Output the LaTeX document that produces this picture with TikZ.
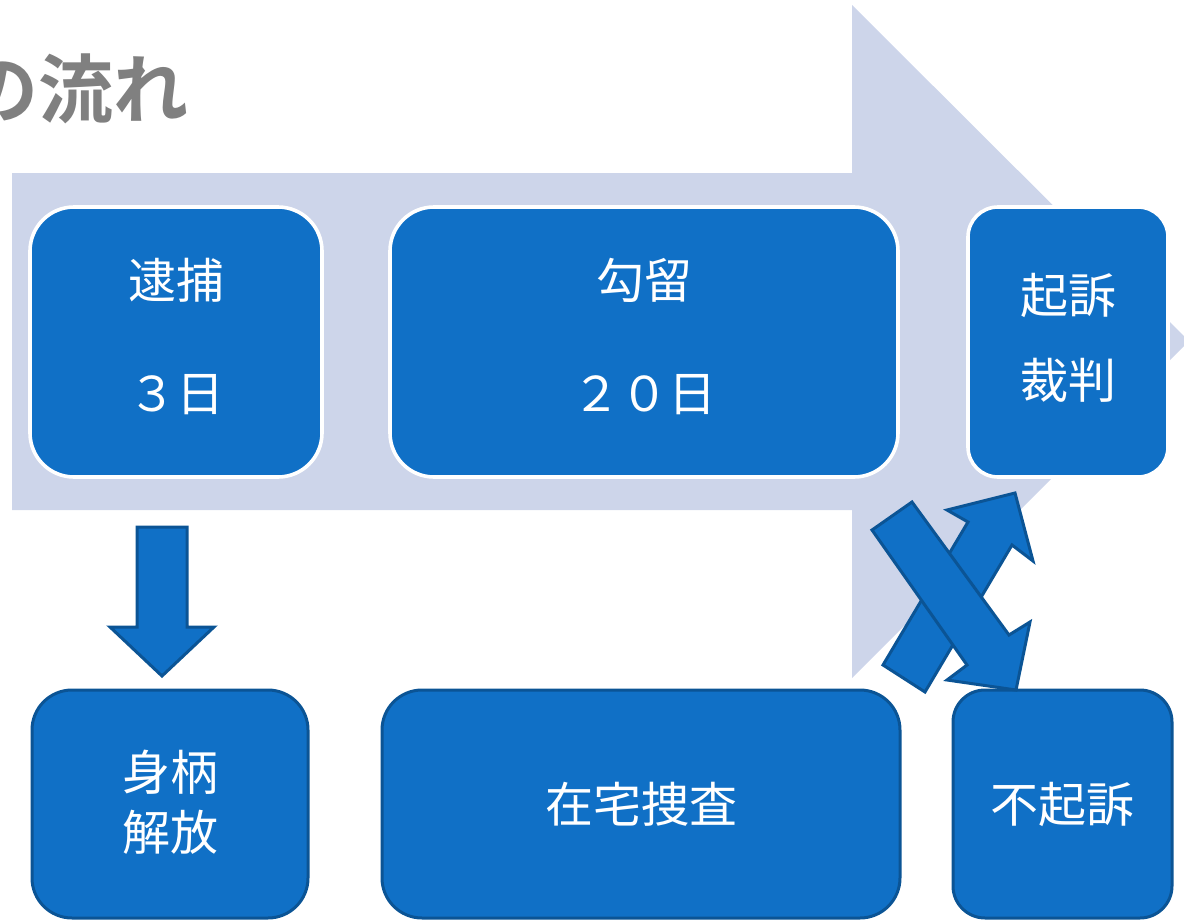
\documentclass[tikz,border=0pt]{standalone}
\usepackage{fontspec}
\newfontfamily\jp{Noto Sans CJK JP}
\newfontfamily\jpbold{Noto Sans CJK JP Bold}
\usetikzlibrary{calc}
\definecolor{bgarrow}{HTML}{CDD5EA}
\definecolor{boxblue}{HTML}{1070C6}
\definecolor{boxedge}{HTML}{0B5495}
\definecolor{titlegray}{HTML}{808080}
\begin{document}
\begin{tikzpicture}[x=0.5pt,y=-0.5pt,
  topbox/.style={draw=white, line width=1.8pt, fill=boxblue, rounded corners=22pt, inner sep=0pt},
  botbox/.style={draw=boxedge, line width=1.5pt, fill=boxblue, rounded corners=20pt, inner sep=0pt},
  blockarrow/.style={draw=boxedge, line width=1.5pt, fill=boxblue, line join=miter},
  lbl/.style={text=white, font=\jp\fontsize{24pt}{28pt}\selectfont, inner sep=0pt}]
\useasboundingbox (0,0) rectangle (1184,921);
\clip (0,0) rectangle (1184,921);
% background arrow
\fill[bgarrow] (12,173) -- (852,173) -- (852,5) -- (1189,341) -- (852,678) -- (852,510) -- (12,510) -- cycle;
% title (partly outside the picture, as in the reference)
\node[anchor=east, inner sep=0pt, text=titlegray, font=\jpbold\fontsize{37.5pt}{40pt}\selectfont] (title) at (189,89) {の流れ};
% top boxes
\node[topbox, minimum width=146pt, minimum height=135pt] (arrest) at (176,342) {};
\node[topbox, minimum width=254pt, minimum height=135pt] (detain) at (644,342) {};
\node[topbox, rounded corners=15pt, minimum width=100pt, minimum height=135pt] (indict) at (1068,342) {};
\node[lbl] (arrestA) at ($(arrest)+(0,-62)$) {逮捕};
\node[lbl] (arrestB) at ($(arrest)+(0,53)$) {３日};
\node[lbl] (detainA) at ($(detain)+(0,-62)$) {勾留};
\node[lbl] (detainB) at ($(detain)+(0,53)$) {２０日};
\node[lbl] (indictA) at ($(indict)+(0,-47)$) {起訴};
\node[lbl] (indictB) at ($(indict)+(0,38)$) {裁判};
% bottom boxes
\node[botbox, minimum width=138pt, minimum height=114pt] (release) at (170,804) {};
\node[botbox, minimum width=259pt, minimum height=114pt] (home) at (641,804) {};
\node[botbox, rounded corners=16pt, minimum width=109.5pt, minimum height=114pt] (nonpros) at (1062.5,804) {};
\node[lbl] (releaseA) at ($(release)+(0,-32)$) {身柄};
\node[lbl] (releaseB) at ($(release)+(0,28)$) {解放};
\node[lbl] (homeA) at (home) {在宅捜査};
\node[lbl] (nonprosA) at (nonpros) {不起訴};
% down arrow
\draw[blockarrow] (137,527) -- (187,527) -- (187,627) -- (214,627) -- (162,676) -- (110,627) -- (137,627) -- cycle;
% cross arrows
\draw[blockarrow] (883,665) -- (968,522) -- (947,510) -- (1015,493) -- (1033,561) -- (1012,545) -- (925,692) -- cycle;
\draw[blockarrow] (872,530) -- (967,665) -- (947,680) -- (1016,690) -- (1030,622) -- (1009,635) -- (912,502) -- cycle;
\end{tikzpicture}
\end{document}
